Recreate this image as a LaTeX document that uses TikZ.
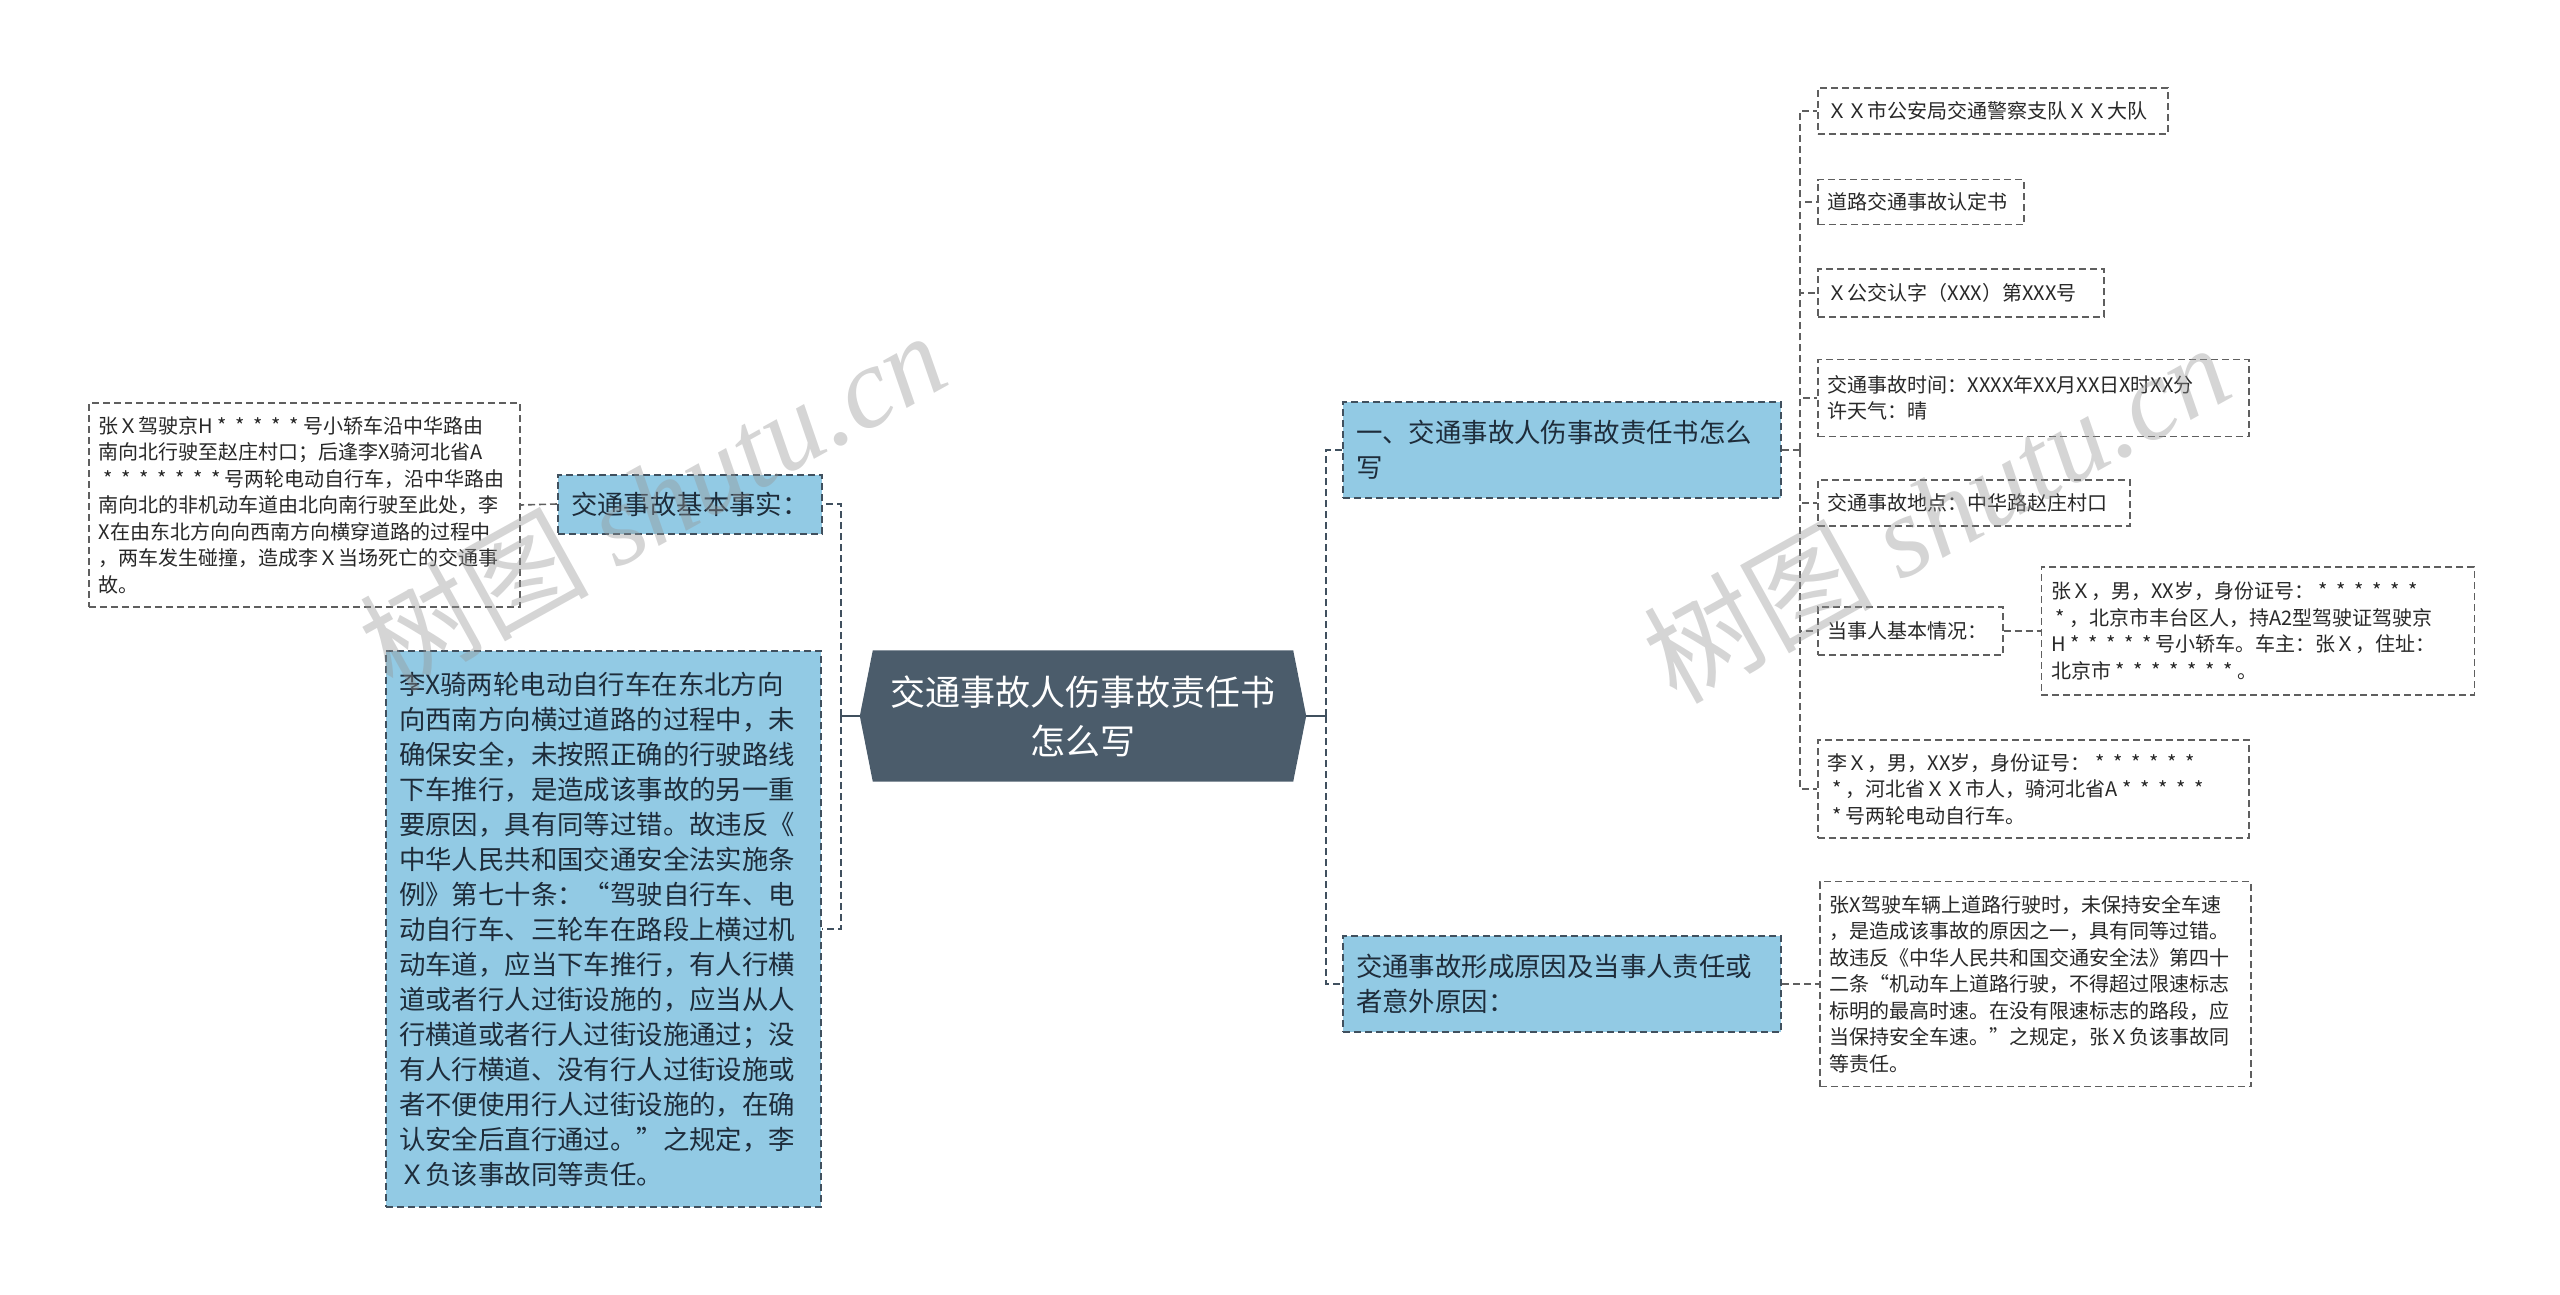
\documentclass[tikz,border=0pt]{standalone}
\usepackage{fontspec}
\newfontfamily\cjk{Noto Sans CJK SC}
\newfontfamily\wmserif{Liberation Serif}
\usetikzlibrary{positioning,backgrounds}

\definecolor{hubfill}{RGB}{75,92,107}
\definecolor{topicblue}{RGB}{146,202,228}
\definecolor{topictext}{RGB}{30,44,58}
\definecolor{linkgray}{RGB}{64,80,94}
\definecolor{leafgray}{RGB}{95,95,95}
\definecolor{leaftext}{RGB}{40,40,40}
\definecolor{wmgray}{RGB}{150,150,150}

\newcommand\xing{\makebox[0.9em]{*}}

\tikzset{
  hub/.style={text=white, align=center, inner sep=0pt, minimum width=420pt, minimum height=131pt,
    font=\cjk\fontsize{35}{49}\selectfont},
  topic/.style={draw=linkgray, line width=2pt, dash pattern=on 7pt off 4pt, fill=topicblue,
    text=topictext, align=left, anchor=west, inner xsep=13pt, inner ysep=0pt,
    font=\cjk\fontsize{26.4}{35}\selectfont},
  leaf/.style={draw=leafgray, line width=1.6pt, dash pattern=on 7pt off 4pt, fill=white,
    text=leaftext, align=left, anchor=west, inner xsep=10pt, inner ysep=0pt,
    font=\cjk\fontsize{20}{26.5}\selectfont},
  stub/.style={draw=linkgray, line width=2.4pt},
  link/.style={draw=linkgray, line width=2.4pt, dash pattern=on 7pt off 4pt},
  twig/.style={draw=leafgray, line width=1.6pt, dash pattern=on 7pt off 4pt},
  wmark/.style={text=wmgray, text opacity=0.4, inner sep=0pt, font=\cjk\fontsize{115}{115}\selectfont},
}

\begin{document}
\begin{tikzpicture}[x=1pt, y=-1pt]
\useasboundingbox (0,0) rectangle (2560,1295);

\node[hub] (hub) at (1083,716) {交通事故人伤事故责任书\\怎么写};
\coordinate (hubL) at ([xshift=-13pt]hub.west);
\coordinate (hubR) at ([xshift=13pt]hub.east);

% left side
\node[topic, text width=238pt, minimum height=59pt] (fact) at (557,504) {交通事故基本事实：};
\node[leaf, text width=411pt, minimum height=204pt] (factnote) at (88,505)
  {张Ｘ驾驶京H\xing\xing\xing\xing\xing 号小轿车沿中华路由\\南向北行驶至赵庄村口；后逢李X骑河北省A\\\xing\xing\xing\xing\xing\xing\xing 号两轮电动自行车，沿中华路由\\南向北的非机动车道由北向南行驶至此处，李\\X在由东北方向向西南方向横穿道路的过程中\\，两车发生碰撞，造成李Ｘ当场死亡的交通事\\故。};
\node[topic, text width=409pt, minimum height=556pt] (blame) at (385,929)
  {李X骑两轮电动自行车在东北方向\\向西南方向横过道路的过程中，未\\确保安全，未按照正确的行驶路线\\下车推行，是造成该事故的另一重\\要原因，具有同等过错。故违反《\\中华人民共和国交通安全法实施条\\例》第七十条：“驾驶自行车、电\\动自行车、三轮车在路段上横过机\\动车道，应当下车推行，有人行横\\道或者行人过街设施的，应当从人\\行横道或者行人过街设施通过；没\\有人行横道、没有行人过街设施或\\者不便使用行人过街设施的，在确\\认安全后直行通过。”之规定，李\\Ｘ负该事故同等责任。};

% right side
\node[topic, text width=412pt, minimum height=96pt] (how) at (1342,450) {一、交通事故人伤事故责任书怎么\\写};
\node[topic, text width=412pt, minimum height=96pt] (cause) at (1342,984) {交通事故形成原因及当事人责任或\\者意外原因：};

\node[leaf, text width=330pt, minimum height=46pt] (unit) at (1817,111) {ＸＸ市公安局交通警察支队ＸＸ大队};
\node[leaf, text width=186pt, minimum height=45pt] (doc) at (1817,202) {道路交通事故认定书};
\node[leaf, text width=266pt, minimum height=48pt] (docno) at (1817,293) {Ｘ公交认字（XXX）第XXX号};
\node[leaf, text width=411pt, minimum height=77pt] (time) at (1817,398) {交通事故时间：XXXX年XX月XX日X时XX分\\许天气：晴};
\node[leaf, text width=292pt, minimum height=46pt] (place) at (1817,503) {交通事故地点：中华路赵庄村口};
\node[leaf, text width=165pt, minimum height=48pt] (party) at (1817,631) {当事人基本情况：};
\node[leaf, text width=413pt, minimum height=128pt, right=37pt of party] (partyzhang)
  {张Ｘ，男，XX岁，身份证号：\xing\xing\xing\xing\xing\xing\\\xing，北京市丰台区人，持A2型驾驶证驾驶京\\H\xing\xing\xing\xing\xing 号小轿车。车主：张Ｘ，住址：\\北京市\xing\xing\xing\xing\xing\xing\xing。};
\node[leaf, text width=411pt, minimum height=98pt] (partyli) at (1817,789)
  {李Ｘ，男，XX岁，身份证号：\xing\xing\xing\xing\xing\xing\\\xing，河北省ＸＸ市人，骑河北省A\xing\xing\xing\xing\xing\\\xing 号两轮电动自行车。};
\node[leaf, text width=411pt, minimum height=205pt, right=37pt of cause] (causenote)
  {张X驾驶车辆上道路行驶时，未保持安全车速\\，是造成该事故的原因之一，具有同等过错。\\故违反《中华人民共和国交通安全法》第四十\\二条“机动车上道路行驶，不得超过限速标志\\标明的最高时速。在没有限速标志的路段，应\\当保持安全车速。”之规定，张Ｘ负该事故同\\等责任。};

\begin{scope}[on background layer]
\fill[hubfill] (hub.north west) -- (hub.north east) -- (hubR) -- (hub.south east)
  -- (hub.south west) -- (hubL) -- cycle;
\end{scope}

% connectors
\draw[stub] (hubL) -- ++(-19,0) coordinate (ltrunk);
\draw[link] (ltrunk) |- (fact.east);
\draw[link] (ltrunk) |- (blame.east);
\draw[twig] (fact.west) -- (factnote.east);

\draw[stub] (hubR) -- ++(20,0) coordinate (rtrunk);
\draw[link] (rtrunk) |- (how.west);
\draw[link] (rtrunk) |- (cause.west);

\draw[twig] (how.east) -- ++(18,0) coordinate (htrunk);
\foreach \c in {unit,doc,docno,time,place,party,partyli}
  \draw[twig] (htrunk) |- (\c.west);
\draw[twig] (party.east) -- (partyzhang.west);
\draw[twig] (cause.east) -- (causenote.west);

\node[wmark, rotate=29] (wmleft) at (652,500) {树图 {\wmserif\itshape shutu.cn}};
\node[wmark, rotate=29] (wmright) at (1936,512) {树图 {\wmserif\itshape shutu.cn}};

\end{tikzpicture}
\end{document}
